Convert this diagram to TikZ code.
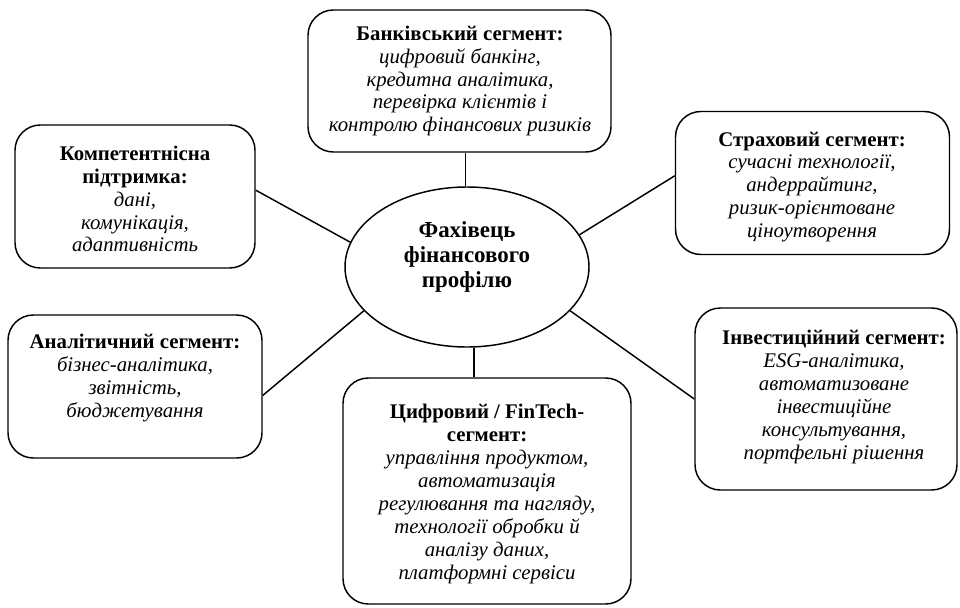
\documentclass[tikz,border=0pt]{standalone}
\usepackage{fontspec}
\setmainfont{Liberation Serif}
\usetikzlibrary{shapes.geometric}

\tikzset{every picture/.style={line width=1.1pt}}
\tikzset{
  segbox/.style={draw, rounded corners=19pt, inner sep=0pt},
  segtext/.style={align=center, font=\fontsize{15.6}{17.2}\selectfont},
}

\begin{document}
\begin{tikzpicture}[x=0.75pt,y=0.75pt,yscale=-1]
\useasboundingbox (0,0) rectangle (960,607);

%Shape: Ellipse [id:prof]
\node [draw, ellipse, minimum width=183pt, minimum height=120pt, inner sep=0pt] (prof) at (467,267) {};

%Shape: Rounded Rect [id:bank]
\node [segbox, minimum width=227.25pt, minimum height=106.5pt] (bank) at (459.5,81) {};
%Shape: Rounded Rect [id:insur]
\node [segbox, minimum width=205.5pt, minimum height=107.25pt] (insur) at (812.5,183) {};
%Shape: Rounded Rect [id:compet]
\node [segbox, minimum width=180pt, minimum height=107.25pt] (compet) at (135,196.5) {};
%Shape: Rounded Rect [id:analyt]
\node [segbox, minimum width=190.5pt, minimum height=107.25pt] (analyt) at (135,386.5) {};
%Shape: Rounded Rect [id:invest]
\node [segbox, minimum width=196.5pt, minimum height=136.5pt] (invest) at (826,399) {};
%Shape: Rounded Rect [id:fintech]
\node [segbox, minimum width=216pt, minimum height=169.5pt] (fintech) at (487,491) {};

%Straight Lines
\draw (prof.91) -- (prof.91 |- bank.south) ;
\draw (prof.16) -- (insur.177) ;
\draw (prof.168.6) -- (compet.3) ;
\draw (prof.203.7) -- (analyt.-4) ;
\draw (prof.-23) -- (invest.180) ;
\draw (prof.-85) -- (prof.-85 |- fintech.north) ;

% Text Node
\node [align=center, font=\fontsize{17.2}{18.8}\selectfont\bfseries] (prof-t) at (467,257) {Фахівець\\фінансового\\профілю};
% Text Node
\node [segtext] (bank-t) at (460,81) {\textbf{Банківський сегмент:}\\\textit{цифровий банкінг,}\\\textit{кредитна аналітика,}\\\textit{перевірка клієнтів і}\\\textit{контролю фінансових ризиків}};
% Text Node
\node [segtext] (insur-t) at (812,187) {\textbf{Страховий сегмент:}\\\textit{сучасні технології,}\\\textit{андеррайтинг,}\\\textit{ризик-орієнтоване}\\\textit{ціноутворення}};
% Text Node
\node [segtext] (compet-t) at (135,199) {\textbf{Компетентнісна}\\\textbf{підтримка:}\\\textit{дані,}\\\textit{комунікація,}\\\textit{адаптивність}};
% Text Node
\node [segtext] (analyt-t) at (135,378) {\textbf{Аналітичний сегмент:}\\\textit{бізнес-аналітика,}\\\textit{звітність,}\\\textit{бюджетування}};
% Text Node
\node [segtext] (invest-t) at (834,397) {\textbf{Інвестиційний сегмент:}\\\textit{ESG-аналітика,}\\\textit{автоматизоване}\\\textit{інвестиційне}\\\textit{консультування,}\\\textit{портфельні рішення}};
% Text Node
\node [segtext] (fintech-t) at (487,494) {\textbf{Цифровий / FinTech-}\\\textbf{сегмент:}\\\textit{управління продуктом,}\\\textit{автоматизація}\\\textit{регулювання та нагляду,}\\\textit{технології обробки й}\\\textit{аналізу даних,}\\\textit{платформні сервіси}};

\end{tikzpicture}
\end{document}
